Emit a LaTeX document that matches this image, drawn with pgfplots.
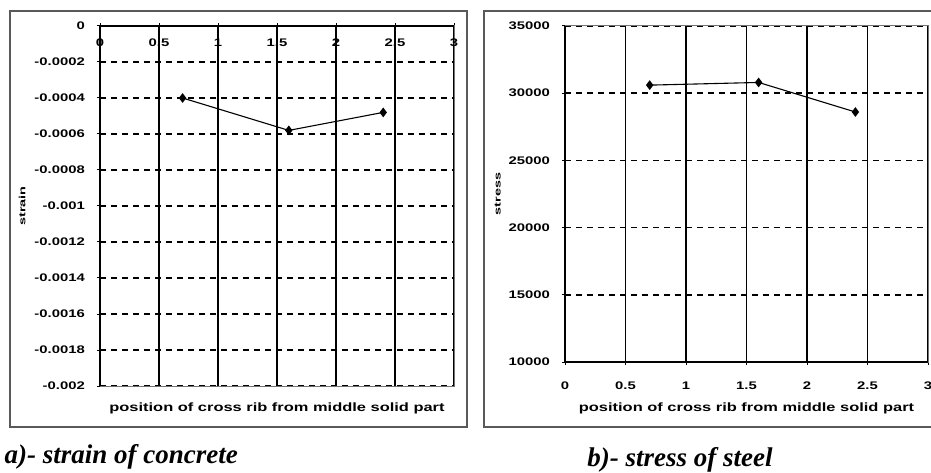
\documentclass[border=0pt]{standalone}
\usepackage{fontspec}
\setmainfont{Liberation Sans}
\newfontfamily\capfont{Liberation Serif}
\usepackage{pgfplots}
\pgfplotsset{compat=1.18}
\pgfplotsset{
  mystyle/.style={
    scale only axis,
    axis line style={black!55, line width=1pt},
    tick style={black, line width=1pt},
    tick align=center,
    major tick length=6pt,
    xmajorgrids, ymajorgrids,
    major x grid style={black, line width=1.5pt},
    major y grid style={black, line width=1.4pt, dash pattern=on 6pt off 5pt},
    ticklabel style={font=\bfseries\fontsize{11}{12}\selectfont, inner sep=0pt},
    xticklabel={\scalebox{1.35}[1]{\pgfmathprintnumber{\tick}}},
    yticklabel={\scalebox{1.35}[1]{\pgfmathprintnumber{\tick}}},
    /pgf/number format/assume math mode=true,
    /pgf/number format/set thousands separator={},
    scaled y ticks=false,
    ylabel style={font=\bfseries\fontsize{9}{10}\selectfont, anchor=center},
    xlabel style={font=\bfseries\fontsize{12}{13}\selectfont, anchor=center},
  },
  dat/.style={black, line width=1.1pt, mark=diamond*, mark size=4pt, mark options={solid, fill=black}},
}
\begin{document}
\begin{tikzpicture}[x=1pt,y=1pt]
\path[use as bounding box] (0,0) rectangle (931,-473);
\draw[line width=1.5pt, black!65] (10,-11) rectangle (467,-427);
\draw[line width=1.5pt, black!65] (484,-11) rectangle (940,-427);

\begin{axis}[mystyle, at={(100pt,-26pt)}, anchor=north west,
  width=354pt, height=360pt,
  xmin=0, xmax=3, ymin=-0.002, ymax=0,
  xtick={0,0.5,1,1.5,2,2.5,3},
  ytick={-0.002,-0.0018,-0.0016,-0.0014,-0.0012,-0.001,-0.0008,-0.0006,-0.0004,-0.0002,0},
  /pgf/number format/fixed, /pgf/number format/precision=4,
  xtick pos=upper, xticklabel pos=upper, ytick pos=left,
  xticklabel style={anchor=center, yshift=-20pt},
  yticklabel style={anchor=east, xshift=-12pt},
  ylabel={\scalebox{1.6}[1]{strain}},
  ylabel style={at={(axis description cs:-0.22,0.5)}},
  xlabel={\scalebox{1.37}[1]{position of cross rib from middle solid part}},
  xlabel style={at={(axis description cs:0.5,-0.061)}},
]
\addplot[dat] coordinates {(0.7,-0.0004) (1.6,-0.00058) (2.4,-0.00048)};
\draw[black, line width=1.3pt] (rel axis cs:0,0) -- (rel axis cs:0,1) -- (rel axis cs:1,1);
\end{axis}

\begin{axis}[mystyle, at={(565pt,-26pt)}, anchor=north west,
  width=363pt, height=336pt,
  xmin=0, xmax=3, ymin=10000, ymax=35000,
  xtick={0,0.5,1,1.5,2,2.5,3},
  ytick={10000,15000,20000,25000,30000,35000},
  xtick pos=lower, ytick pos=left,
  xticklabel style={anchor=center, yshift=-21pt},
  yticklabel style={anchor=east, xshift=-12pt},
  ylabel={\scalebox{1.6}[1]{stress}},
  ylabel style={at={(axis description cs:-0.185,0.5)}},
  xlabel={\scalebox{1.37}[1]{position of cross rib from middle solid part}},
  xlabel style={at={(axis description cs:0.5,-0.137)}},
]
\addplot[dat] coordinates {(0.7,30600) (1.6,30800) (2.4,28600)};
\draw[black, line width=1.3pt] (rel axis cs:0,1) -- (rel axis cs:0,0) -- (rel axis cs:1,0);
\end{axis}

\node[anchor=west, font=\capfont\bfseries\itshape\fontsize{27}{31}\selectfont] at (1,-457) {a)- strain of concrete};
\node[anchor=center, font=\capfont\bfseries\itshape\fontsize{27}{31}\selectfont] at (680,-460) {b)- stress of steel};
\end{tikzpicture}
\end{document}
